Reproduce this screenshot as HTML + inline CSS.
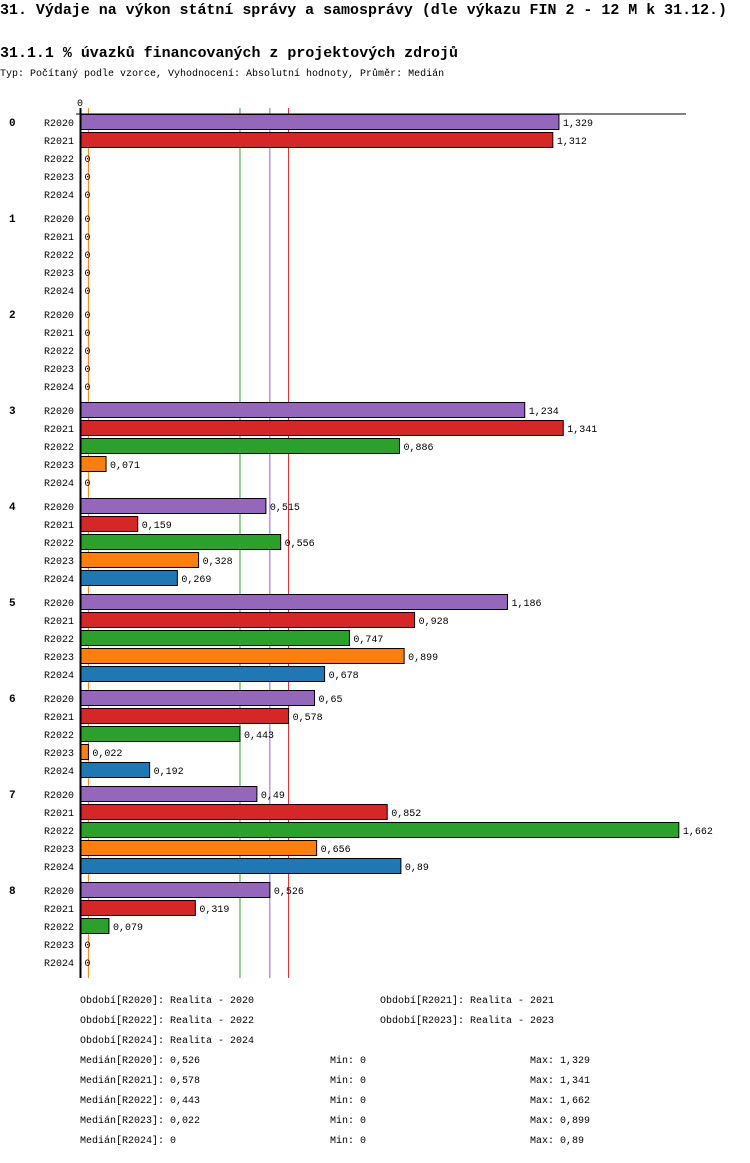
<!DOCTYPE html>
<html><head><meta charset="utf-8"><style>
body{margin:0;background:#fff;width:750px;height:1158px;overflow:hidden}
svg text{font-family:"Liberation Mono",monospace}
</style></head><body>
<svg id="c" width="750" height="1158" xmlns="http://www.w3.org/2000/svg">
<text x="0" y="14" font-size="15" font-weight="bold" textLength="727" lengthAdjust="spacingAndGlyphs">31. Výdaje na výkon státní správy a samosprávy (dle výkazu FIN 2 - 12 M k 31.12.)</text>
<text x="0" y="57" font-size="15" font-weight="bold" textLength="458" lengthAdjust="spacingAndGlyphs">31.1.1 % úvazků financovaných z projektových zdrojů</text>
<text x="0" y="76" font-size="10">Typ: Počítaný podle vzorce, Vyhodnocení: Absolutní hodnoty, Průměr: Medián</text>
<g id="g"></g>
</svg>
<script>
const groups=["0","1","2","3","4","5","6","7","8"];
const periods=["R2020","R2021","R2022","R2023","R2024"];
const colors=["#9467bd","#d62728","#2ca02c","#ff7f0e","#1f77b4"];
const v2020=[1.329,0,0,1.234,0.515,1.186,0.65,0.49,0.526];
const v2021=[1.312,0,0,1.341,0.159,0.928,0.578,0.852,0.319];
const v2022=[0,0,0,0.886,0.556,0.747,0.443,1.662,0.079];
const v2023=[0,0,0,0.071,0.328,0.899,0.022,0.656,0];
const v2024=[0,0,0,0,0.269,0.678,0.192,0.89,0];
const medians=[0.526,0.578,0.443,0.022,0];
const mins=[0,0,0,0,0];
const maxs=[1.329,1.341,1.662,0.899,0.89];
const series=[v2020,v2021,v2022,v2023,v2024];
const NS="http://www.w3.org/2000/svg";
const g=document.getElementById('g');
const X0=80.5,K=360;
const xs=v=>X0+v*K;
const rowY=(gi,pi)=>122+gi*96+pi*18;
const fmt=v=>String(v).replace('.',',');
function el(t,a,txt){const e=document.createElementNS(NS,t);for(const k in a)e.setAttribute(k,a[k]);if(txt!=null)e.textContent=txt;g.appendChild(e);return e;}
const lineBottom=rowY(8,4)+16;
medians.forEach((m,i)=>{
  const l=el('line',{x1:xs(m),x2:xs(m),y1:108,y2:lineBottom,stroke:colors[i],'stroke-width':1});
  
  
});
groups.forEach((gn,gi)=>{
  const t=el('text',{x:9,y:rowY(gi,0)+4,'font-size':11,'font-weight':'bold'},gn);
  
  
  periods.forEach((p,pi)=>{
    const y=rowY(gi,pi),v=series[pi][gi];
    const pl=el('text',{x:44,y:y+4,'font-size':10},p);
    
    
    if(v>0){
      const r=el('rect',{x:X0,y:y-7.5,width:xs(v)-X0,height:15,fill:colors[pi],stroke:'#000','stroke-width':1});
      
      
    }
    const vl=el('text',{x:xs(v)+4,y:y+4,'font-size':10},fmt(v));
    
    
  });
});
const ax=el('line',{x1:X0,x2:X0,y1:108,y2:lineBottom,stroke:'#000','stroke-width':2});


const tx=el('line',{x1:76,x2:686,y1:114,y2:114,stroke:'#000','stroke-width':1});


const z=el('text',{x:77,y:106,'font-size':10},'0');


const leg=[[80,1003,"Období[R2020]: Realita - 2020"],[380,1003,"Období[R2021]: Realita - 2021"],[80,1023,"Období[R2022]: Realita - 2022"],[380,1023,"Období[R2023]: Realita - 2023"],[80,1043,"Období[R2024]: Realita - 2024"]];
leg.forEach(a=>{const t=el('text',{x:a[0],y:a[1],'font-size':10},a[2]);

});
periods.forEach((p,i)=>{
  const y=1063+i*20;
  const a=el('text',{x:80,y:y,'font-size':10},'Medián['+p+']: '+fmt(medians[i]));
  
  
  const b=el('text',{x:330,y:y,'font-size':10},'Min: '+fmt(mins[i]));
  
  
  const c=el('text',{x:530,y:y,'font-size':10},'Max: '+fmt(maxs[i]));
  
  
});
</script>
</body></html>
